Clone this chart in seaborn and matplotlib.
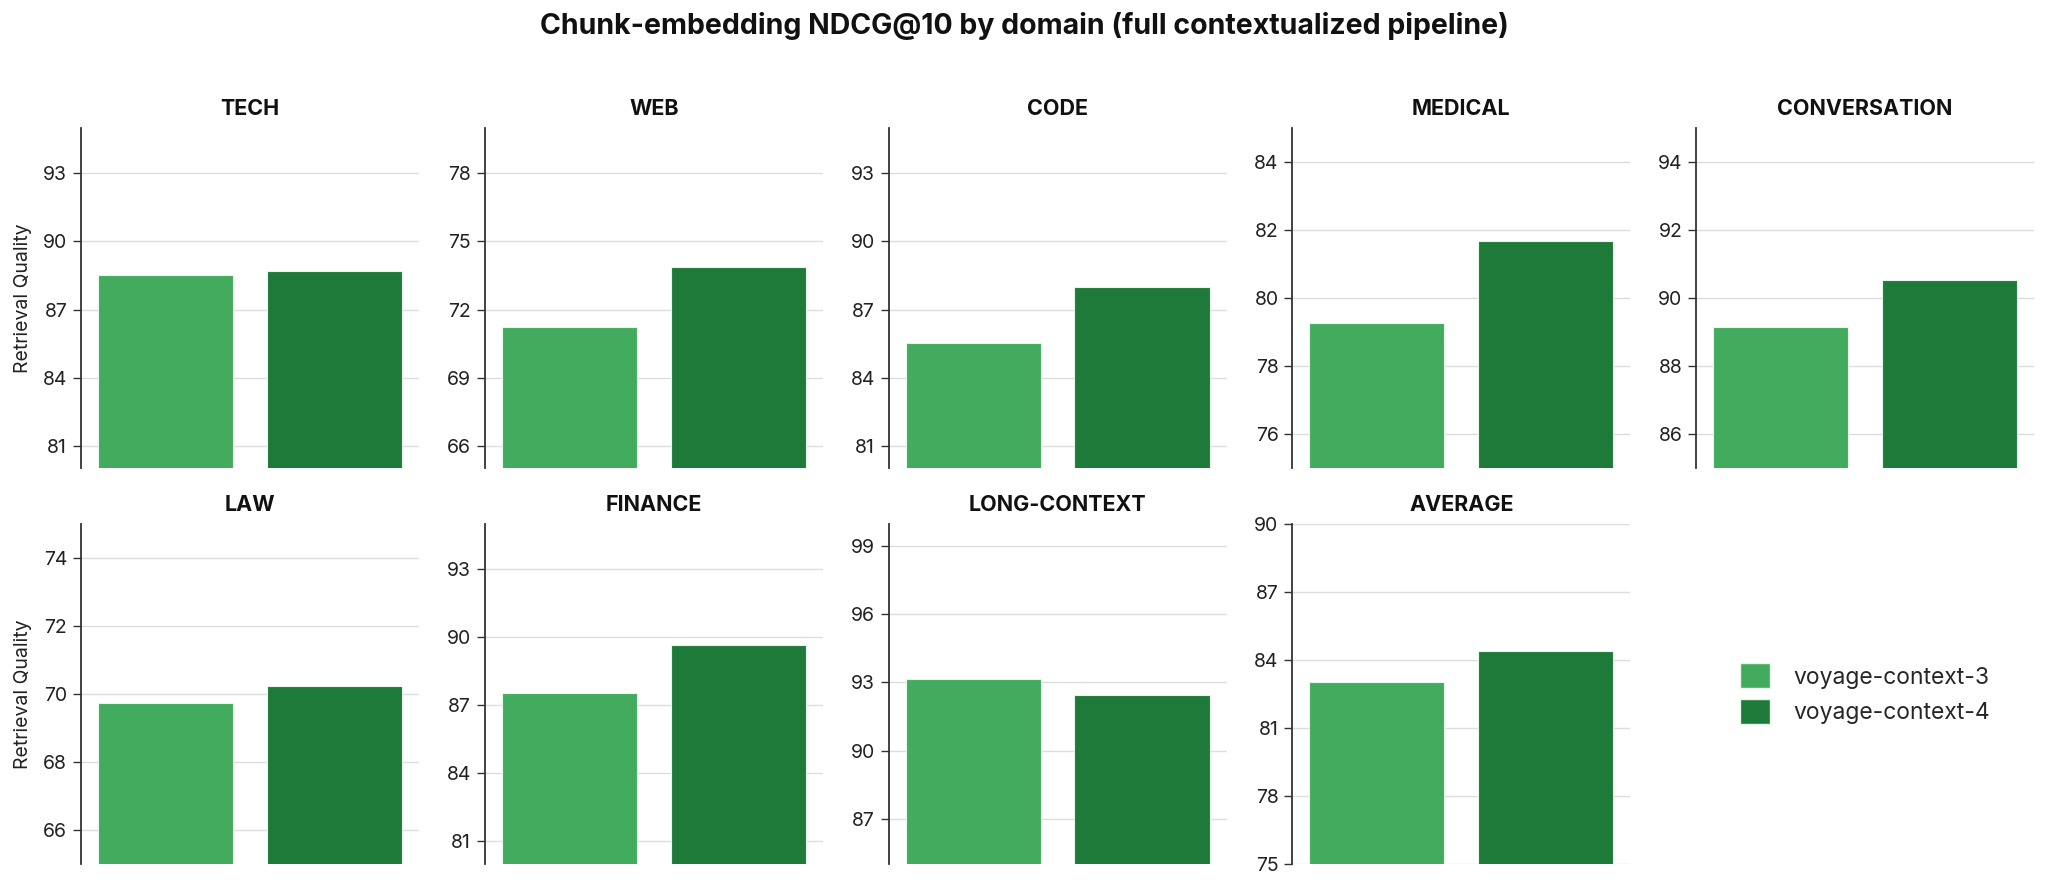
import matplotlib
matplotlib.use("Agg")
import matplotlib.pyplot as plt
import seaborn as sns
import pandas as pd
from matplotlib.patches import Patch

# ---- data ----
domains = ["TECH", "WEB", "CODE", "MEDICAL", "CONVERSATION",
           "LAW", "FINANCE", "LONG-CONTEXT", "AVERAGE"]
models = ["voyage-context-3", "voyage-context-4"]
ctx3 = [88.53, 71.25, 85.52, 79.27, 89.16, 69.74, 87.52, 93.14, 83.01]
ctx4 = [88.72, 73.86, 88.00, 81.68, 90.54, 70.23, 89.66, 92.45, 84.38]
ylims = [(80, 95), (65, 80), (80, 95), (75, 85), (85, 95),
         (65, 75), (80, 95), (85, 100), (75, 90)]
yticks = [[81, 84, 87, 90, 93], [66, 69, 72, 75, 78], [81, 84, 87, 90, 93],
          [76, 78, 80, 82, 84], [86, 88, 90, 92, 94],
          [66, 68, 70, 72, 74], [81, 84, 87, 90, 93], [87, 90, 93, 96, 99],
          [75, 78, 81, 84, 87, 90]]
colors = ["#42ab5d", "#1e7a39"]
title = "Chunk-embedding NDCG@10 by domain (full contextualized pipeline)"
ylabel = "Retrieval Quality"

rows = []
for d, a, b in zip(domains, ctx3, ctx4):
    rows.append({"domain": d, "model": models[0], "score": a})
    rows.append({"domain": d, "model": models[1], "score": b})
df = pd.DataFrame(rows)

sns.set_theme(style="white")
plt.rcParams["font.family"] = ["Inter", "DejaVu Sans"]

fig, axes = plt.subplots(2, 5, figsize=(20.48, 8.9), dpi=100)
fig.subplots_adjust(left=0.0396, right=0.9932, top=0.8562, bottom=0.0292,
                    wspace=0.195, hspace=0.162)
pal = dict(zip(models, colors))

for i, d in enumerate(domains):
    ax = axes.flat[i]
    sub = df[df["domain"] == d]
    sns.barplot(data=sub, x="model", y="score", hue="model", order=models,
                hue_order=models, palette=pal, ax=ax, legend=False,
                saturation=1, width=0.8, edgecolor="#e8f5ea", linewidth=0.8)
    ax.set_ylim(*ylims[i])
    ax.set_yticks(yticks[i])
    ax.yaxis.grid(True, color="#dddddd", linewidth=1.0)
    ax.set_axisbelow(True)
    ax.set_xticks([])
    ax.set_xlabel("")
    ax.set_ylabel(ylabel if i % 5 == 0 else "", fontsize=14, color="#222222",
                  labelpad=8)
    for s in ["top", "right", "bottom"]:
        ax.spines[s].set_visible(False)
    ax.spines["left"].set_color("#333333")
    ax.spines["left"].set_linewidth(1.3)
    ax.tick_params(axis="y", which="major", left=True, length=6, width=1,
                   color="#333333", labelsize=14, labelcolor="#222222", pad=4)
    ax.set_title(d, fontsize=15.5, fontweight="bold", pad=9, color="#111111")

# legend panel
lax = axes.flat[9]
lax.axis("off")
handles = [Patch(facecolor=c, edgecolor="#e8f5ea", label=m) for m, c in zip(models, colors)]
lax.legend(handles=handles, loc="center", frameon=False, fontsize=16.5,
           handlelength=1.3, handleheight=1.3, handletextpad=1.0, labelspacing=0.45)

fig.text(0.5, 0.971, title, ha="center", va="center", fontsize=20.5,
         fontweight="bold", color="#111111")

fig.savefig("out.png", dpi=100, facecolor="white")
